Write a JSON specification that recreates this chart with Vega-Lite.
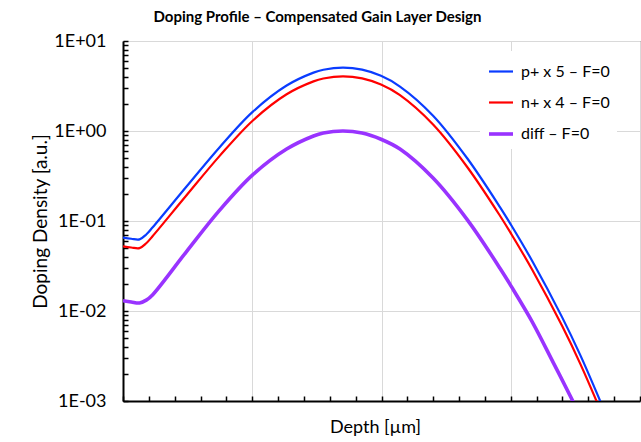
{
  "$schema": "https://vega.github.io/schema/vega-lite/v6.json",
  "width": 517,
  "height": 360,
  "autosize": {"type": "none"},
  "padding": {"left": 123, "top": 41, "right": 1, "bottom": 41},
  "background": "white",
  "title": {"text": "Doping Profile – Compensated Gain Layer Design", "fontSize": 15, "font": "Lato", "fontWeight": "bold", "color": "black", "anchor": "middle", "dx": -64, "offset": 7},
  "data": {"values": [
    {"series": "p+ x 5 – F=0", "depth": 0, "density": 0.0653},
    {"series": "p+ x 5 – F=0", "depth": 0.064, "density": 0.0635},
    {"series": "p+ x 5 – F=0", "depth": 0.128, "density": 0.0625},
    {"series": "p+ x 5 – F=0", "depth": 0.18, "density": 0.0708},
    {"series": "p+ x 5 – F=0", "depth": 0.23, "density": 0.0851},
    {"series": "p+ x 5 – F=0", "depth": 0.49, "density": 0.24},
    {"series": "p+ x 5 – F=0", "depth": 0.748, "density": 0.661},
    {"series": "p+ x 5 – F=0", "depth": 1.005, "density": 1.64},
    {"series": "p+ x 5 – F=0", "depth": 1.266, "density": 3.2},
    {"series": "p+ x 5 – F=0", "depth": 1.474, "density": 4.45},
    {"series": "p+ x 5 – F=0", "depth": 1.55, "density": 4.79},
    {"series": "p+ x 5 – F=0", "depth": 1.702, "density": 5.06},
    {"series": "p+ x 5 – F=0", "depth": 1.85, "density": 4.8},
    {"series": "p+ x 5 – F=0", "depth": 1.996, "density": 4.1},
    {"series": "p+ x 5 – F=0", "depth": 2.143, "density": 3.12},
    {"series": "p+ x 5 – F=0", "depth": 2.399, "density": 1.48},
    {"series": "p+ x 5 – F=0", "depth": 2.663, "density": 0.498},
    {"series": "p+ x 5 – F=0", "depth": 2.919, "density": 0.141},
    {"series": "p+ x 5 – F=0", "depth": 3.004, "density": 0.0897},
    {"series": "p+ x 5 – F=0", "depth": 3.164, "density": 0.0364},
    {"series": "p+ x 5 – F=0", "depth": 3.397, "density": 0.00855},
    {"series": "p+ x 5 – F=0", "depth": 3.539, "density": 0.00321},
    {"series": "p+ x 5 – F=0", "depth": 3.694, "density": 0.000986},
    {"series": "p+ x 5 – F=0", "depth": 3.76, "density": 0.00059},
    {"series": "n+ x 4 – F=0", "depth": 0, "density": 0.0522},
    {"series": "n+ x 4 – F=0", "depth": 0.064, "density": 0.0508},
    {"series": "n+ x 4 – F=0", "depth": 0.128, "density": 0.05},
    {"series": "n+ x 4 – F=0", "depth": 0.18, "density": 0.0566},
    {"series": "n+ x 4 – F=0", "depth": 0.23, "density": 0.0681},
    {"series": "n+ x 4 – F=0", "depth": 0.49, "density": 0.192},
    {"series": "n+ x 4 – F=0", "depth": 0.748, "density": 0.529},
    {"series": "n+ x 4 – F=0", "depth": 1.005, "density": 1.31},
    {"series": "n+ x 4 – F=0", "depth": 1.266, "density": 2.56},
    {"series": "n+ x 4 – F=0", "depth": 1.474, "density": 3.56},
    {"series": "n+ x 4 – F=0", "depth": 1.55, "density": 3.83},
    {"series": "n+ x 4 – F=0", "depth": 1.702, "density": 4.05},
    {"series": "n+ x 4 – F=0", "depth": 1.85, "density": 3.84},
    {"series": "n+ x 4 – F=0", "depth": 1.996, "density": 3.28},
    {"series": "n+ x 4 – F=0", "depth": 2.143, "density": 2.5},
    {"series": "n+ x 4 – F=0", "depth": 2.399, "density": 1.18},
    {"series": "n+ x 4 – F=0", "depth": 2.663, "density": 0.398},
    {"series": "n+ x 4 – F=0", "depth": 2.919, "density": 0.113},
    {"series": "n+ x 4 – F=0", "depth": 3.004, "density": 0.0718},
    {"series": "n+ x 4 – F=0", "depth": 3.164, "density": 0.0291},
    {"series": "n+ x 4 – F=0", "depth": 3.397, "density": 0.00684},
    {"series": "n+ x 4 – F=0", "depth": 3.539, "density": 0.00257},
    {"series": "n+ x 4 – F=0", "depth": 3.694, "density": 0.000789},
    {"series": "n+ x 4 – F=0", "depth": 3.76, "density": 0.00047},
    {"series": "diff – F=0", "depth": 0, "density": 0.013},
    {"series": "diff – F=0", "depth": 0.064, "density": 0.0126},
    {"series": "diff – F=0", "depth": 0.128, "density": 0.0123},
    {"series": "diff – F=0", "depth": 0.18, "density": 0.0132},
    {"series": "diff – F=0", "depth": 0.23, "density": 0.0152},
    {"series": "diff – F=0", "depth": 0.49, "density": 0.0455},
    {"series": "diff – F=0", "depth": 0.748, "density": 0.132},
    {"series": "diff – F=0", "depth": 1.005, "density": 0.327},
    {"series": "diff – F=0", "depth": 1.266, "density": 0.63},
    {"series": "diff – F=0", "depth": 1.474, "density": 0.88},
    {"series": "diff – F=0", "depth": 1.55, "density": 0.95},
    {"series": "diff – F=0", "depth": 1.702, "density": 1.0},
    {"series": "diff – F=0", "depth": 1.85, "density": 0.95},
    {"series": "diff – F=0", "depth": 1.996, "density": 0.81},
    {"series": "diff – F=0", "depth": 2.143, "density": 0.63},
    {"series": "diff – F=0", "depth": 2.399, "density": 0.3},
    {"series": "diff – F=0", "depth": 2.663, "density": 0.1035},
    {"series": "diff – F=0", "depth": 2.919, "density": 0.0295},
    {"series": "diff – F=0", "depth": 3.004, "density": 0.01875},
    {"series": "diff – F=0", "depth": 3.164, "density": 0.00767},
    {"series": "diff – F=0", "depth": 3.329, "density": 0.00267},
    {"series": "diff – F=0", "depth": 3.48, "density": 0.001},
    {"series": "diff – F=0", "depth": 3.55, "density": 0.00062}
  ]},
  "mark": {"type": "line", "interpolate": "catmull-rom", "clip": true},
  "encoding": {
    "x": {
      "field": "depth", "type": "quantitative",
      "scale": {"domain": [0, 4], "nice": false, "zero": false},
      "axis": {
        "values": [0, 0.2, 0.4, 0.6, 0.8, 1, 1.2, 1.4, 1.6, 1.8, 2, 2.2, 2.4, 2.6, 2.8, 3, 3.2, 3.4, 3.6, 3.8, 4],
        "labels": false,
        "title": "Depth [µm]",
        "titleFontSize": 18, "titleFontWeight": "normal", "titleColor": "black",
        "titleX": 252, "titleY": 26, "titleBaseline": "middle", "titleAlign": "center",
        "domainColor": "black", "domainWidth": 2,
        "ticks": true, "tickColor": "black", "tickWidth": 1.5, "tickSize": -5,
        "grid": true, "gridColor": "#d9d9d9", "gridWidth": 1,
        "gridOpacity": {"condition": {"test": "abs(datum.value - round(datum.value)) < 0.001", "value": 1}, "value": 0}
      }
    },
    "y": {
      "field": "density", "type": "quantitative",
      "scale": {"type": "log", "domain": [0.001, 10], "nice": false},
      "axis": {
        "values": [0.001, 0.002, 0.003, 0.004, 0.005, 0.006, 0.007, 0.008, 0.009, 0.01, 0.02, 0.03, 0.04, 0.05, 0.06, 0.07, 0.08, 0.09, 0.1, 0.2, 0.3, 0.4, 0.5, 0.6, 0.7, 0.8, 0.9, 1, 2, 3, 4, 5, 6, 7, 8, 9, 10],
        "labelExpr": "abs(log(datum.value)/LN10 - round(log(datum.value)/LN10)) < 0.001 ? ('1E' + (round(log(datum.value)/LN10) < 0 ? '-' : '+') + '0' + abs(round(log(datum.value)/LN10))) : ''",
        "labelOverlap": false,
        "labelFontSize": 18, "labelColor": "black", "labelPadding": 22,
        "title": "Doping Density [a.u.]",
        "titleFontSize": 19, "titleFontWeight": "normal", "titleColor": "black",
        "titleX": -83, "titleY": 180, "titleAngle": -90, "titleAlign": "center", "titleBaseline": "middle",
        "domainColor": "black", "domainWidth": 2,
        "ticks": true, "tickColor": "black", "tickWidth": 1.5, "tickSize": -5,
        "grid": true, "gridColor": "#d9d9d9", "gridWidth": 1,
        "gridOpacity": {"condition": {"test": "abs(log(datum.value)/LN10 - round(log(datum.value)/LN10)) < 0.001", "value": 1}, "value": 0}
      }
    },
    "color": {
      "field": "series", "type": "nominal",
      "scale": {"domain": ["p+ x 5 – F=0", "n+ x 4 – F=0", "diff – F=0"], "range": ["#0a3cff", "#ff0000", "#9933ff"]},
      "legend": {
        "title": null, "orient": "none", "legendX": 357, "legendY": 10,
        "fillColor": "white", "padding": 7,
        "symbolType": "stroke", "symbolSize": 576,
        "labelFontSize": 16, "labelColor": "black", "labelOffset": 6, "labelLimit": 220,
        "rowPadding": 9
      }
    },
    "strokeWidth": {
      "field": "series", "type": "nominal",
      "scale": {"type": "ordinal", "domain": ["p+ x 5 – F=0", "n+ x 4 – F=0", "diff – F=0"], "range": [2.2, 2.2, 3.6]}
    }
  },
  "config": {"view": {"stroke": "#404040", "strokeWidth": 1}, "font": "Lato"}
}
